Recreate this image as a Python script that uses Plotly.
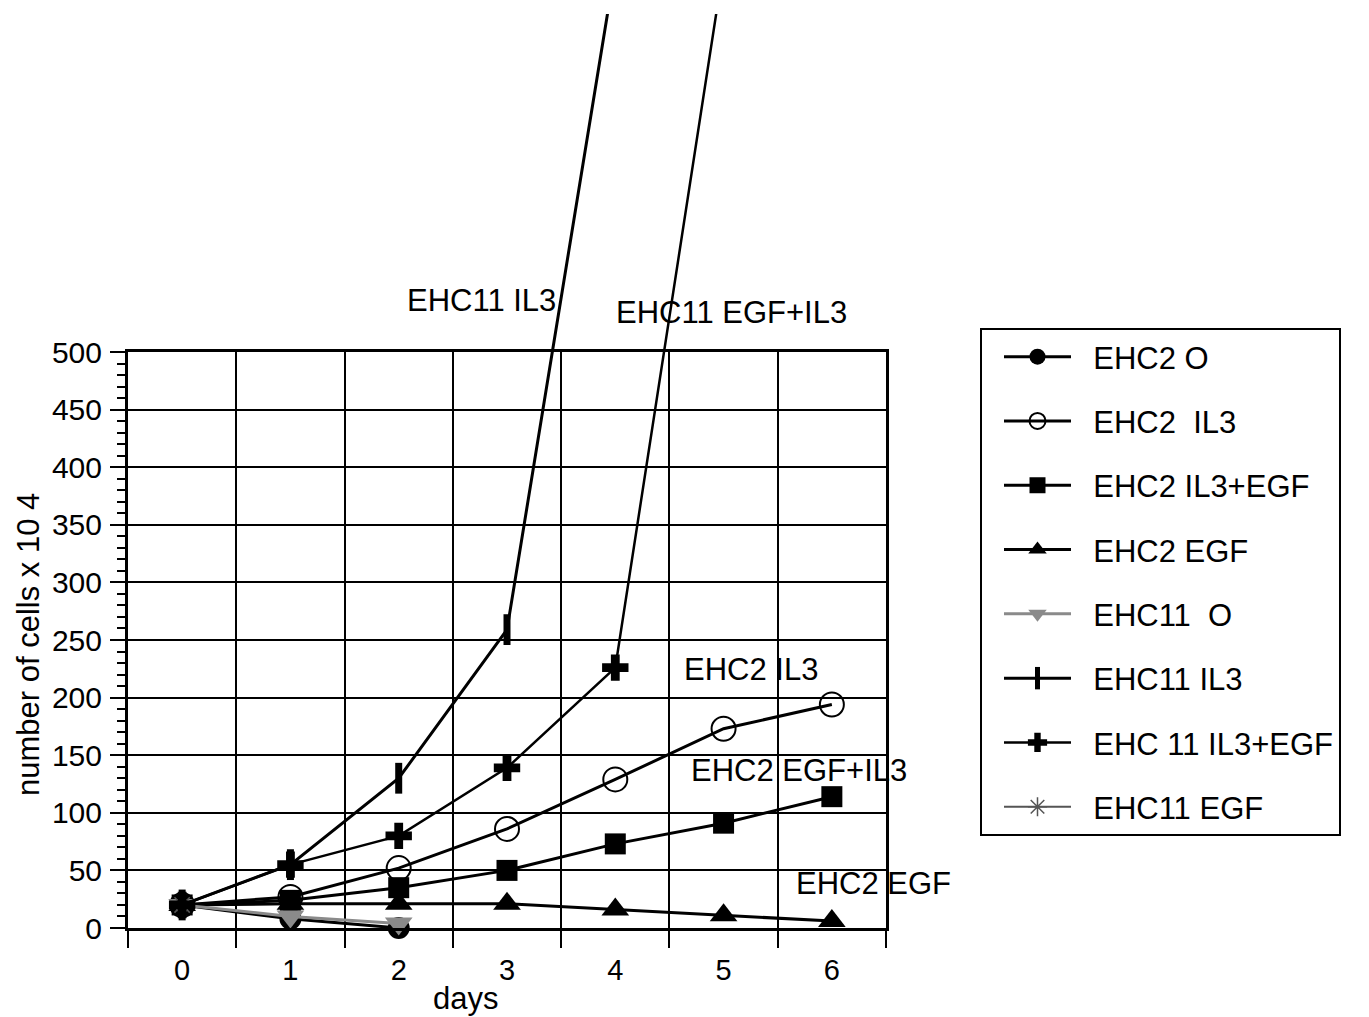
import plotly.graph_objects as go

# ---------------- data ----------------
days = [0, 1, 2, 3, 4, 5, 6]
day_labels = ["0", "1", "2", "3", "4", "5", "6"]

ehc2_o = [20, 8, 0]
ehc2_il3 = [20, 27, 52, 86, 129, 173, 194]
ehc2_il3_egf = [20, 24, 35, 50, 73, 91, 114]
ehc2_egf = [20, 21, 21, 21, 16, 11, 6]
ehc11_o = [20, 10, 4]
ehc11_il3 = [20, 55, 130, 259, 835]
ehc11_il3_egf = [20, 55, 80, 139, 226, 835]
ehc11_egf = [20]

y_ticks = [0, 50, 100, 150, 200, 250, 300, 350, 400, 450, 500]
x_bounds = [-0.5, 0.5, 1.5, 2.5, 3.5, 4.5, 5.5, 6.5]
y_minor = [v for v in range(0, 501, 10) if v % 50 != 0]

# (text, x, y, axis)
labels = [
    ("EHC11 IL3", 2.06, 545, "y2"),
    ("EHC11 EGF+IL3", 3.99, 534, "y2"),
    ("EHC2 IL3", 4.62, 224, "y"),
    ("EHC2 EGF+IL3", 4.68, 137, "y"),
    ("EHC2 EGF", 5.65, 39, "y"),
]

# ---------------- layout geometry ----------------
OFF = 8  # page body margin
W, H = 1369, 1017
ML = 128 - OFF
MR = W - (886 - OFF)
MT = 14 - OFF
MB = H - (928 - OFF)
plot_w = W - ML - MR
plot_h = H - MT - MB
main_h = 576
dom_top = main_h / plot_h


def px_x(px):
    return (px - OFF - ML) / plot_w


def px_y(py):
    return (928 - py) / plot_h


FONT = "Liberation Sans, Arial, Helvetica, sans-serif"
BLACK = "black"
GREY = "#8a8a8a"
NB = "\u00a0\u00a0"

fig = go.Figure()


def add(name, y, symbol, size, color, lc, lw, axis="main", mline=None, clip=True):
    x = days[: len(y)]
    marker = dict(symbol=symbol, size=size, color=color)
    if mline is not None:
        marker["line"] = mline
    kw = {}
    if axis == "tall":
        kw = dict(xaxis="x2", yaxis="y2")
    fig.add_trace(
        go.Scatter(
            x=x, y=y, name=NB + name, mode="lines+markers",
            line=dict(color=lc, width=lw),
            marker=marker, legendgroup=name, cliponaxis=clip, **kw,
        )
    )


add("EHC2 O", ehc2_o, "circle", 22, BLACK, BLACK, 3, clip=False)
add("EHC2  IL3", ehc2_il3, "circle-open", 24, BLACK, BLACK, 3, mline=dict(width=2, color=BLACK))
add("EHC2 IL3+EGF", ehc2_il3_egf, "square", 21, BLACK, BLACK, 3)
add("EHC2 EGF", ehc2_egf, "triangle-up", 24, BLACK, BLACK, 3, clip=False)
add("EHC11  O", ehc11_o, "triangle-down", 24, GREY, GREY, 3, clip=False)
add("EHC11 IL3", ehc11_il3, "line-ns-open", 22, BLACK, BLACK, 3, axis="tall",
    mline=dict(width=7, color=BLACK))
add("EHC 11 IL3+EGF", ehc11_il3_egf, "cross", 22, BLACK, BLACK, 2.5, axis="tall")
add("EHC11 EGF", ehc11_egf, "asterisk-open", 18, "#555555", "#555555", 2,
    mline=dict(width=1.5, color="#555555"))

annotations = [
    dict(x=x, y=y, xref="x" if ax == "y" else "x2", yref=ax, text=t, showarrow=False,
         xanchor="left", yanchor="middle", font=dict(size=31, color=BLACK, family=FONT))
    for t, x, y, ax in labels
]
annotations.append(dict(x=px_x(465), y=px_y(998),
                        xref="paper", yref="paper", text="days", showarrow=False,
                        xanchor="center", yanchor="middle",
                        font=dict(size=31, color=BLACK, family=FONT)))
annotations.append(dict(x=px_x(28), y=px_y(645),
                        xref="paper", yref="paper", text="number of cells x 10 4",
                        showarrow=False, textangle=-90, xanchor="center", yanchor="middle",
                        font=dict(size=31, color=BLACK, family=FONT)))

fig.update_layout(
    width=W, height=H,
    margin=dict(l=ML, r=MR, t=MT, b=MB, autoexpand=False),
    paper_bgcolor="white", plot_bgcolor="rgba(0,0,0,0)",
    font=dict(family=FONT, color=BLACK, size=29),
    showlegend=True,
    legend=dict(
        x=px_x(980), y=px_y(328),
        xanchor="left", yanchor="top",
        bordercolor=BLACK, borderwidth=2, bgcolor="white",
        font=dict(size=31, family=FONT, color=BLACK),
        tracegroupgap=21, itemwidth=67, itemsizing="trace",
        indentation=17,
    ),
    xaxis=dict(
        domain=[0, 1], range=[-0.5, 6.5], automargin=False,
        tickmode="array", tickvals=days, ticktext=day_labels,
        ticks="outside", ticklen=14, tickcolor="rgba(0,0,0,0)",
        showgrid=False, zeroline=False,
        showline=True, linecolor=BLACK, linewidth=3, mirror=True,
        tickfont=dict(size=29, family=FONT, color=BLACK),
        minor=dict(tickmode="array", tickvals=x_bounds, ticks="outside",
                   ticklen=17, tickwidth=2, tickcolor=BLACK,
                   showgrid=True, gridcolor=BLACK, gridwidth=2),
        anchor="y",
    ),
    yaxis=dict(
        domain=[0, dom_top], range=[0, 500], automargin=False,
        tickmode="array", tickvals=y_ticks,
        ticks="outside", ticklen=15, tickwidth=2, tickcolor=BLACK,
        showgrid=True, gridcolor=BLACK, gridwidth=2, zeroline=False,
        showline=True, linecolor=BLACK, linewidth=3, mirror=True,
        tickfont=dict(size=30, family=FONT, color=BLACK),
        ticklabelstandoff=2,
        minor=dict(tickmode="array", tickvals=y_minor, ticks="outside",
                   ticklen=8, tickwidth=1.5, tickcolor=BLACK, showgrid=False),
        anchor="x",
    ),
    xaxis2=dict(domain=[0, 1], range=[-0.5, 6.5], visible=False, anchor="y2", automargin=False),
    yaxis2=dict(domain=[0, 1], range=[0, 500 / dom_top], visible=False, anchor="x2", automargin=False),
    annotations=annotations,
)

fig.write_html("out.html")
